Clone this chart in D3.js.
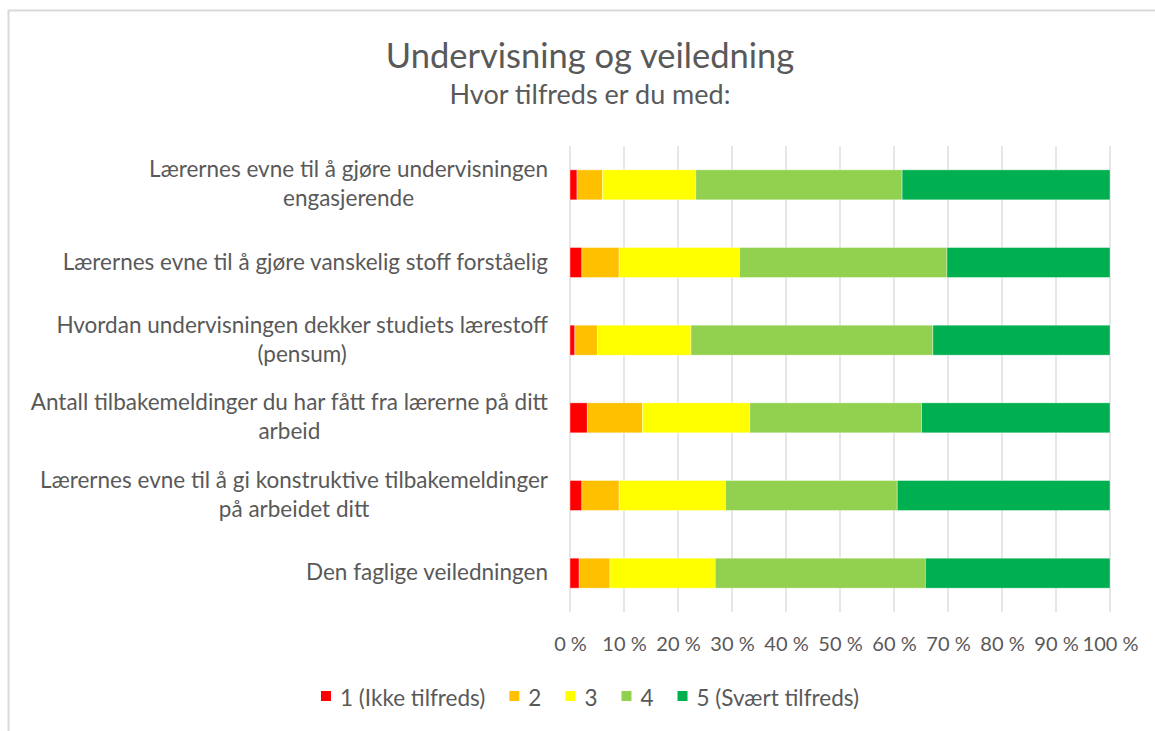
<!DOCTYPE html>
<html>
<head>
<meta charset="utf-8">
<script src="https://cdn.jsdelivr.net/npm/d3@7"></script>
<style>
    body { margin: 0; background: #FFF; }
    text { font-family: Lato, "Open Sans", sans-serif; fill: #595959; }
</style>
</head>
<body>
<div class="chart"></div>
<script>
//Categories, top to bottom (line breaks as wrapped in the original)
var categories = [
    "Lærernes evne til å gjøre undervisningen\nengasjerende",
    "Lærernes evne til å gjøre vanskelig stoff forståelig",
    "Hvordan undervisningen dekker studiets lærestoff\n(pensum)",
    "Antall tilbakemeldinger du har fått fra lærerne på ditt\narbeid",
    "Lærernes evne til å gi konstruktive tilbakemeldinger\npå arbeidet ditt",
    "Den faglige veiledningen"
];

//Answer options (series names)
var seriesNames = ["1 (Ikke tilfreds)", "2", "3", "4", "5 (Svært tilfreds)"];

//Share of answers in percent, one list per answer option
var answer1 = [1.3, 2.2, 0.9, 3.2, 2.2, 1.7];
var answer2 = [4.7, 6.9, 4.2, 10.2, 6.9, 5.7];
var answer3 = [17.3, 22.3, 17.3, 19.9, 19.7, 19.5];
var answer4 = [38.2, 38.4, 44.8, 31.8, 31.8, 38.9];
var answer5 = [38.5, 30.2, 32.8, 34.9, 39.4, 34.2];

//Axis ticks
var tickValues = [0, 0.1, 0.2, 0.3, 0.4, 0.5, 0.6, 0.7, 0.8, 0.9, 1];

var title = "Undervisning og veiledning";
var subtitle = "Hvor tilfreds er du med:";

//Colors for each answer option
var palette = ["#FF0000", "#FFC000", "#FFFF00", "#92D050", "#00B050"];

//Layout configuration
var config = {
    width: 1155,
    height: 731,
    left: 570,
    right: 1110,
    top: 146,
    bottom: 612,
    labelRight: 548,
    center: 590,
    labelFont: 22.5,
    lineHeight: 29
};

//Build rows for d3.stack
var allSeries = [answer1, answer2, answer3, answer4, answer5];
var rows = categories.map(function(c, i) {
    var row = { category: c };
    seriesNames.forEach(function(s, j) { row[s] = allSeries[j][i]; });
    return row;
});

var stacked = d3.stack()
    .keys(seriesNames)
    .offset(d3.stackOffsetExpand)(rows);

var svg = d3.select(".chart")
    .append("svg")
        .attr("width", config.width)
        .attr("height", config.height)
        .style("display", "block");

//Chart frame (runs off the right and bottom edge like the screenshot)
svg.append("rect")
    .attr("x", 8.5)
    .attr("y", 10.5)
    .attr("width", 1200)
    .attr("height", 800)
    .attr("fill", "#FFF")
    .attr("stroke", "#D9D9D9")
    .attr("stroke-width", 2);

//Scales
var x = d3.scaleLinear()
    .domain([0, 1])
    .range([config.left, config.right]);

var y = d3.scaleBand()
    .domain(categories)
    .range([config.top, config.bottom])
    .paddingInner(0.614)
    .paddingOuter(0.307);

//Vertical gridlines
svg.append("g")
    .selectAll("line")
    .data(tickValues)
    .join("line")
        .attr("x1", function(d) { return x(d); })
        .attr("x2", function(d) { return x(d); })
        .attr("y1", config.top)
        .attr("y2", config.bottom)
        .attr("stroke", "#D9D9D9")
        .attr("stroke-width", 1.3);

//Stacked bars
svg.append("g")
    .selectAll("g")
    .data(stacked)
    .join("g")
        .attr("fill", function(d, i) { return palette[i]; })
    .selectAll("rect")
    .data(function(d) { return d; })
    .join("rect")
        .attr("x", function(d) { return x(d[0]); })
        .attr("y", function(d) { return y(d.data.category); })
        .attr("width", function(d) { return x(d[1]) - x(d[0]); })
        .attr("height", y.bandwidth())
        .attr("stroke", "#FFF")
        .attr("stroke-opacity", 0.5)
        .attr("stroke-width", 0.75);

//X axis (tick labels only)
var xAxis = svg.append("g")
    .attr("transform", "translate(0," + config.bottom + ")")
    .call(d3.axisBottom(x)
        .tickValues(tickValues)
        .tickSize(0)
        .tickPadding(25)
        .tickFormat(function(d) { return Math.round(d * 100) + " %"; }));
xAxis.select(".domain").remove();
xAxis.selectAll("text")
    .style("font-family", "Lato, sans-serif")
    .style("font-size", "20px")
    .attr("fill", "#595959");

//Category labels, wrapped lines centred on each other, right aligned block
categories.forEach(function(c) {
    var lines = c.split("\n");
    var cy = y(c) + y.bandwidth() / 2;
    var label = svg.append("text")
        .attr("text-anchor", "middle")
        .style("font-size", config.labelFont + "px");
    lines.forEach(function(line, i) {
        label.append("tspan")
            .attr("y", cy + 7 + (i - (lines.length - 1) / 2) * config.lineHeight)
            .text(line);
    });
    //Measure the widest line and position block against labelRight
    var maxWidth = 0;
    label.selectAll("tspan").each(function() {
        maxWidth = Math.max(maxWidth, this.getComputedTextLength());
    });
    label.selectAll("tspan").attr("x", config.labelRight - maxWidth / 2);
});

//Title and subtitle
svg.append("text")
    .attr("x", config.center)
    .attr("y", 68)
    .attr("text-anchor", "middle")
    .style("font-size", "34.5px")
    .text(title);

svg.append("text")
    .attr("x", config.center)
    .attr("y", 104)
    .attr("text-anchor", "middle")
    .style("font-size", "27px")
    .text(subtitle);

//Legend, measured then centred
var legend = svg.append("g");
var offset = 0;
seriesNames.forEach(function(s, i) {
    var item = legend.append("g").attr("transform", "translate(" + offset + ",0)");
    item.append("rect")
        .attr("x", 0)
        .attr("y", -15)
        .attr("width", 10)
        .attr("height", 10)
        .attr("fill", palette[i]);
    var t = item.append("text")
        .attr("x", 19)
        .attr("y", 0)
        .style("font-size", config.labelFont + "px")
        .text(s);
    offset += 19 + t.node().getComputedTextLength() + 24;
});
var legendWidth = offset - 24;
legend.attr("transform", "translate(" + (config.center - legendWidth / 2) + ",706)");
</script>
</body>
</html>
